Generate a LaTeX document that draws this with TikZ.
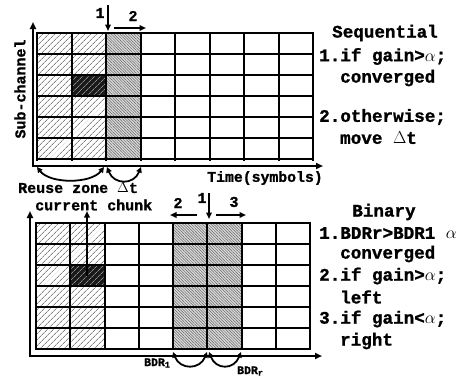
\documentclass[tikz,border=0pt]{standalone}
\usepackage{fontspec}
\setmainfont{Liberation Mono}[BoldFeatures={FakeBold=1.2}]
\usetikzlibrary{patterns.meta,arrows.meta}
\begin{document}
\begin{tikzpicture}[x=1pt,y=-1pt,
  txt/.style={inner sep=0pt, font=\bfseries\fontsize{15}{15}\selectfont},
  rtxt/.style={inner sep=0pt, anchor=west, font=\bfseries\fontsize{17.6}{17.6}\selectfont},
  small/.style={inner sep=0pt, font=\bfseries\fontsize{11.5}{11.5}\selectfont},
  gl/.style={line width=2pt, line cap=rect},
  ax/.style={line width=2pt, {Triangle[length=7pt,width=6pt]}-{Triangle[length=7pt,width=6pt]}},
  arr/.style={line width=2pt, -{Triangle[length=6.5pt,width=5.5pt]}},
  arcarrow/.style={line width=1.8pt, {Triangle[length=5.5pt,width=5.5pt]}-{Triangle[length=5.5pt,width=5.5pt]}},
  hatch/.style={pattern={Lines[angle=45,distance=4pt,line width=0.5pt]}, pattern color=black!75},
  dark/.style={preaction={fill=black!90}, pattern={Lines[angle=45,distance=4pt,line width=0.7pt]}, pattern color=black!45},
  dense/.style={preaction={fill=black!15}, pattern={Lines[angle=-45,distance=2pt,line width=0.5pt]}, pattern color=black!60},
]
\useasboundingbox (0,0) rectangle (463,381);
\fill[white] (0,0) rectangle (463,381);

% ---------- top grid ----------
\path[hatch] (37,33) rectangle (106,159.5);
\path[dark] (71.5,75.16) rectangle (106,96.24);
\path[dense] (106,33) rectangle (140.5,159.5);
\foreach \i in {0,...,8} \draw[gl] ({37+34.5*\i},33) -- ({37+34.5*\i},159.5);
\foreach \j in {0,...,6} \draw[gl] (37,{33+21.08*\j}) -- (313,{33+21.08*\j});

\coordinate (o1) at (33,166);
\coordinate (yt1) at (33,22);
\coordinate (xt1) at (323,166);
\draw[ax] (yt1) -- (o1) -- (xt1);

\coordinate (a1s) at (108,5);
\coordinate (a1e) at (108,31);
\draw[arr] (a1s) -- (a1e);
\node[txt] (n1a) at (100,13) {1};
\coordinate (a2s) at (114,28);
\coordinate (a2e) at (146,28);
\draw[arr] (a2s) -- (a2e);
\node[txt] (n2a) at (133,16) {2};

\coordinate (r1) at (37,167);
\coordinate (r2) at (104,167);
\coordinate (r3) at (107,167);
\coordinate (r4) at (141,167);
\draw[arcarrow] (r1) .. controls (50,184) and (91,184) .. (r2);
\draw[arcarrow] (r3) .. controls (114,185) and (134,185) .. (r4);

\node[txt, rotate=90] (sub) at (20,89) {Sub-channel};
\node[txt, font=\bfseries\fontsize{14.8}{14.8}\selectfont] (time) at (265,178) {Time(symbols)};
\node[txt, anchor=west] (reuse) at (18,188) {Reuse zone $\Delta$t};

\node[rtxt, anchor=center] (seq) at (385,33) {Sequential};
\node[rtxt] (s1) at (319,56.5) {1.if gain>$\alpha$;};
\node[rtxt] (s2) at (340,78) {converged};
\node[rtxt] (s3) at (319,117) {2.otherwise;};
\node[rtxt] (s4) at (340,138) {move $\Delta$t};

% ---------- bottom grid ----------
\path[hatch] (36,223) rectangle (104.5,349);
\path[dark] (70.25,265) rectangle (104.5,286);
\path[dense] (173,223) rectangle (241.5,349);
\foreach \i in {0,...,8} \draw[gl] ({36+34.25*\i},223) -- ({36+34.25*\i},349);
\foreach \j in {0,...,6} \draw[gl] (36,{223+21*\j}) -- (310,{223+21*\j});

\coordinate (o2) at (30,356);
\coordinate (yt2) at (30,211);
\coordinate (xt2) at (322,356);
\draw[ax] (yt2) -- (o2) -- (xt2);

\node[txt, anchor=west] (chunk) at (35,205) {current chunk};
\coordinate (cc) at (87,276);
\coordinate (ct) at (87,211);
\draw[arr] (cc) -- (ct);

\coordinate (b2s) at (197,215);
\coordinate (b2e) at (170,215);
\draw[arr] (b2s) -- (b2e);
\node[txt] (n2b) at (178,203) {2};
\coordinate (b1s) at (209,193);
\coordinate (b1e) at (209,219);
\draw[arr] (b1s) -- (b1e);
\node[txt] (n1b) at (202,198) {1};
\coordinate (b3s) at (216,215);
\coordinate (b3e) at (246,215);
\draw[arr] (b3s) -- (b3e);
\node[txt] (n3b) at (234,202) {3};

\coordinate (q1) at (173,352);
\coordinate (q2) at (207,352);
\coordinate (q3) at (209,352);
\coordinate (q4) at (241,352);
\draw[arcarrow] (q1) .. controls (180,370) and (200,370) .. (q2);
\draw[arcarrow] (q3) .. controls (216,370) and (234,370) .. (q4);

\node[small, anchor=west] (bdrl) at (144,363) {BDR\raisebox{-0.25ex}{\fontsize{8.5}{8.5}\selectfont 1}};
\node[small, anchor=west] (bdrr) at (237,371) {BDR\raisebox{-0.25ex}{\fontsize{8.5}{8.5}\selectfont r}};

\node[rtxt, anchor=center] (bin) at (384,212) {Binary};
\node[rtxt] (b1) at (319,233) {1.BDRr>BDR1 $\alpha$};
\node[rtxt] (b2) at (340,254) {converged};
\node[rtxt] (b3) at (319,276) {2.if gain>$\alpha$;};
\node[rtxt] (b4) at (340,297) {left};
\node[rtxt] (b5) at (319,319) {3.if gain<$\alpha$;};
\node[rtxt] (b6) at (340,341) {right};
\end{tikzpicture}
\end{document}
